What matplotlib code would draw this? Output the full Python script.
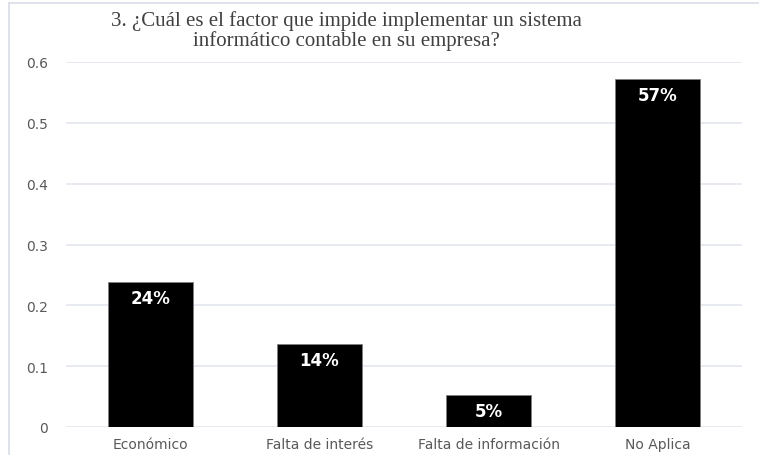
import matplotlib
matplotlib.use("Agg")
import matplotlib.pyplot as plt
from matplotlib.lines import Line2D

categories = ["Económico", "Falta de interés", "Falta de información", "No Aplica"]
values = [0.238, 0.136, 0.053, 0.572]
labels = ["24%", "14%", "5%", "57%"]
yticks = [0, 0.1, 0.2, 0.3, 0.4, 0.5, 0.6]
ytick_labels = ["0", "0.1", "0.2", "0.3", "0.4", "0.5", "0.6"]
title = "3. ¿Cuál es el factor que impide implementar un sistema\ninformático contable en su empresa?"

W, H = 759, 456
fig = plt.figure(figsize=(W / 100, H / 100), dpi=100)
fig.patch.set_facecolor("white")

left, right = 66, 742
bottom, top = 428, 63
ax = fig.add_axes([left / W, 1 - bottom / H, (right - left) / W, (bottom - top) / H])

x = list(range(len(categories)))
bars = ax.bar(x, values, width=0.5, color="black", edgecolor="#7f7f7f", linewidth=0.6, zorder=3)
ax.set_xlim(-0.5, len(categories) - 0.5)
ax.set_ylim(0, 0.6)
ax.set_yticks(yticks)
ax.set_yticklabels(ytick_labels)
ax.set_xticks(x)
ax.set_xticklabels(categories)
ax.grid(axis="y", color="#e3e6ee", linewidth=1.2, zorder=0)
for s in ax.spines.values():
    s.set_visible(False)
ax.tick_params(axis="both", length=0, labelsize=10, labelcolor="#595959")
ax.tick_params(axis="y", pad=13)
ax.tick_params(axis="x", pad=7)
for t in ax.get_xticklabels() + ax.get_yticklabels():
    t.set_fontfamily("DejaVu Sans")

for b, v, lab in zip(bars, values, labels):
    ax.annotate(lab, (b.get_x() + b.get_width() / 2, v), xytext=(0, -5),
                textcoords="offset points", ha="center", va="top",
                color="white", fontsize=12, fontweight="bold", family="DejaVu Sans", zorder=4)

fig.text(346 / W, 1 - 31 / H, title, ha="center", va="center", fontsize=15,
         family="Liberation Serif", color="#404040", linespacing=0.95)

# figure border (top & left)
fig.add_artist(Line2D([9 / W, 1], [1 - 4 / H, 1 - 4 / H], transform=fig.transFigure, color="#d9dde6", linewidth=1.2))
fig.add_artist(Line2D([9 / W, 9 / W], [0, 1 - 4 / H], transform=fig.transFigure, color="#d9dde6", linewidth=1.2))

fig.savefig("out.png", dpi=100, facecolor="white")
